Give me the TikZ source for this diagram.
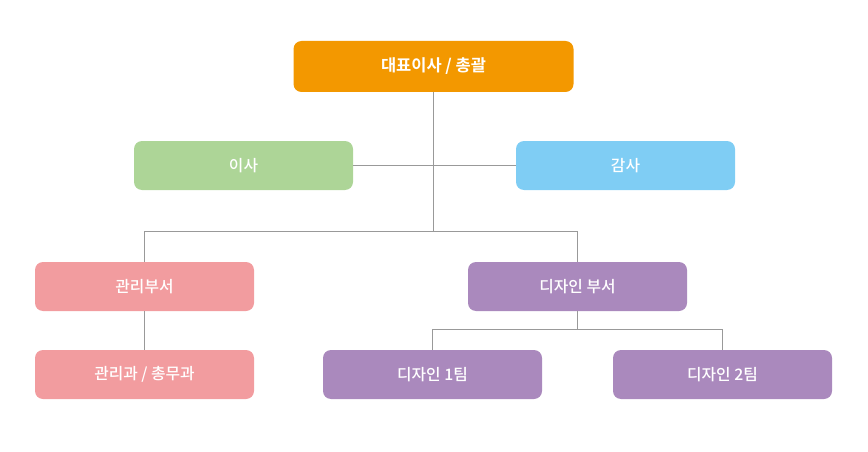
\documentclass[tikz,border=0pt]{standalone}
\usepackage{fontspec}
\setmainfont{Noto Sans CJK KR}[BoldFont={Noto Sans CJK KR Bold}]
\newfontfamily\medfont{Noto Sans CJK KR Medium}
\definecolor{cOrange}{HTML}{F39800}
\definecolor{cGreen}{HTML}{ADD597}
\definecolor{cBlue}{HTML}{7FCDF4}
\definecolor{cPink}{HTML}{F29C9F}
\definecolor{cPurple}{HTML}{AA89BD}
\definecolor{cLine}{HTML}{999999}
\tikzset{
  box/.style={rounded corners=8pt, minimum width=219pt, minimum height=49pt, inner sep=0pt, text=white, font=\medfont\fontsize{15.8}{18}\selectfont},
  topbox/.style={box, fill=cOrange, minimum width=280pt, minimum height=51pt, font=\bfseries\fontsize{16.5}{18}\selectfont},
  conn/.style={draw=cLine, line width=0.8pt}
}
\begin{document}
\begin{tikzpicture}[x=1pt,y=-1pt]
\useasboundingbox (0,0) rectangle (868,452);
\node[topbox] (ceo) at (433.5,66.5) {대표이사 / 총괄};
\node[box, fill=cGreen] (dir) at (243.5,165.5) {이사};
\node[box, fill=cBlue] (aud) at (625.5,165.5) {감사};
\node[box, fill=cPink] (mgmt) at (144.5,286.5) {관리부서};
\node[box, fill=cPurple] (des) at (577.5,286.5) {디자인 부서};
\node[box, fill=cPink] (gen) at (144.5,374.5) {관리과 / 총무과};
\node[box, fill=cPurple] (t1) at (432.5,374.5) {디자인 1팀};
\node[box, fill=cPurple] (t2) at (722.5,374.5) {디자인 2팀};
\coordinate (j1) at (433.5,231);
\coordinate (j2) at (577.5,329);
\draw[conn] (ceo.south) -- (j1);
\draw[conn] (dir.east) -- (aud.west);
\draw[conn] (j1) -| (mgmt.north);
\draw[conn] (j1) -| (des.north);
\draw[conn] (mgmt.south) -- (gen.north);
\draw[conn] (des.south) -- (j2);
\draw[conn] (j2) -| (t1.north);
\draw[conn] (j2) -| (t2.north);
\end{tikzpicture}
\end{document}
